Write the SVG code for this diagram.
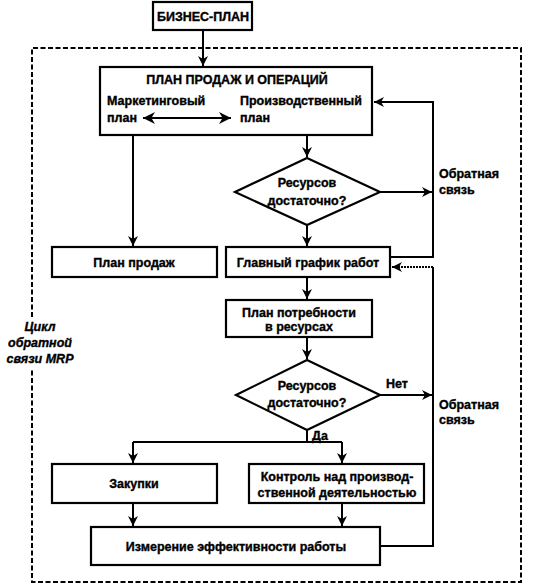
<svg xmlns="http://www.w3.org/2000/svg" width="541" height="584" viewBox="0 0 541 584">
<style>
.box{fill:#fff;stroke:#000;stroke-width:2.2}
.ln{fill:none;stroke:#000;stroke-width:2}
.t{font-family:"Liberation Sans",Arial,sans-serif;font-weight:bold;font-size:12.5px;fill:#000;stroke:#000;stroke-width:0.35}
.c{text-anchor:middle}
.it{font-style:italic}
</style>
<defs>
<marker id="ah" viewBox="0 0 10 10" refX="10" refY="5" markerWidth="5" markerHeight="5" orient="auto-start-reverse" markerUnits="strokeWidth">
<path d="M0,0 L10,5 L0,10 L3,5 z" fill="#000"/>
</marker>
<marker id="ah2" viewBox="0 0 10 10" refX="10" refY="5" markerWidth="6" markerHeight="6" orient="auto-start-reverse" markerUnits="strokeWidth">
<path d="M0,0 L10,5 L0,10 L3,5 z" fill="#000"/>
</marker>
</defs>
<rect width="541" height="584" fill="#fff"/>
<g id="frame">
<path d="M32,317 L32,48 L521,48 L521,582 L32,582 L32,370" fill="none" stroke="#000" stroke-width="2" stroke-dasharray="5 2.5"/>
<text class="t c it" x="40" y="331">Цикл</text>
<text class="t c it" x="40" y="347">обратной</text>
<text class="t c it" x="40" y="363">связи MRP</text>
</g>
<g id="connectors">
<path class="ln" d="M203,30 L203,66" marker-end="url(#ah)"/>
<path class="ln" d="M133,135 L133,246" marker-end="url(#ah)"/>
<path class="ln" d="M307,135 L307,157" marker-end="url(#ah)"/>
<path class="ln" d="M307,225 L307,246" marker-end="url(#ah)"/>
<path class="ln" d="M380,192 L432,192" marker-end="url(#ah)"/>
<path class="ln" d="M390,257 L433,257 L433,102 L374,102" marker-end="url(#ah)"/>
<path class="ln" d="M307,277 L307,299" marker-end="url(#ah)"/>
<path class="ln" d="M307,337 L307,359" marker-end="url(#ah)"/>
<path class="ln" d="M380,395 L432,395" marker-end="url(#ah)"/>
<path class="ln" d="M307,430 L307,442 M133,442 L342,442"/>
<path class="ln" d="M133,442 L133,463" marker-end="url(#ah)"/>
<path class="ln" d="M342,442 L342,463" marker-end="url(#ah)"/>
<path class="ln" d="M133,503 L133,526" marker-end="url(#ah)"/>
<path class="ln" d="M342,503 L342,526" marker-end="url(#ah)"/>
<path class="ln" d="M380,546 L433,546 L433,267" />
<path class="ln" d="M433,267 L392,267" stroke-dasharray="2 1" marker-end="url(#ah)"/>
</g>
<g id="business-plan">
<rect class="box" x="153" y="2" width="99" height="28"/>
<text class="t c" x="203" y="20.5">БИЗНЕС-ПЛАН</text>
</g>
<g id="sop">
<rect class="box" x="100" y="67" width="272" height="68"/>
<text class="t c" x="237" y="84" font-size="13.5">ПЛАН ПРОДАЖ И ОПЕРАЦИЙ</text>
<text class="t" x="107" y="105">Маркетинговый</text>
<text class="t" x="107" y="122">план</text>
<text class="t" x="240" y="105">Производственный</text>
<text class="t" x="240" y="122">план</text>
<path class="ln" d="M143,118 L231,118" stroke-width="1.5" marker-start="url(#ah2)" marker-end="url(#ah2)"/>
</g>
<g id="decision1">
<polygon class="box" points="307,158 380,192 307,225 235,192"/>
<text class="t c" x="307" y="187">Ресурсов</text>
<text class="t c" x="307" y="205">достаточно?</text>
</g>
<g id="feedback1">
<text class="t" x="439" y="178">Обратная</text>
<text class="t" x="439" y="194">связь</text>
</g>
<g id="sales-plan">
<rect class="box" x="52" y="247" width="165" height="30"/>
<text class="t c" x="134" y="266.5">План продаж</text>
</g>
<g id="master-schedule">
<rect class="box" x="226" y="247" width="164" height="30"/>
<text class="t c" x="308" y="266.5">Главный график работ</text>
</g>
<g id="mrp">
<rect class="box" x="226" y="300" width="146" height="37"/>
<text class="t c" x="299" y="317">План потребности</text>
<text class="t c" x="299" y="331">в ресурсах</text>
</g>
<g id="decision2">
<polygon class="box" points="307,360 380,395 307,430 236,395"/>
<text class="t c" x="307" y="390">Ресурсов</text>
<text class="t c" x="307" y="407">достаточно?</text>
<text class="t" x="386" y="388">Нет</text>
<text class="t" x="312" y="440">Да</text>
</g>
<g id="feedback2">
<text class="t" x="439" y="409">Обратная</text>
<text class="t" x="439" y="424">связь</text>
</g>
<g id="purchasing">
<rect class="box" x="52" y="464" width="165" height="39"/>
<text class="t c" x="134" y="488">Закупки</text>
</g>
<g id="production-control">
<rect class="box" x="249" y="464" width="175" height="39"/>
<text class="t c" x="337" y="481">Контроль над производ-</text>
<text class="t c" x="337" y="497">ственной деятельностью</text>
</g>
<g id="performance">
<rect class="box" x="91" y="527" width="289" height="38"/>
<text class="t c" x="236" y="550.5">Измерение эффективности работы</text>
</g>
</svg>
